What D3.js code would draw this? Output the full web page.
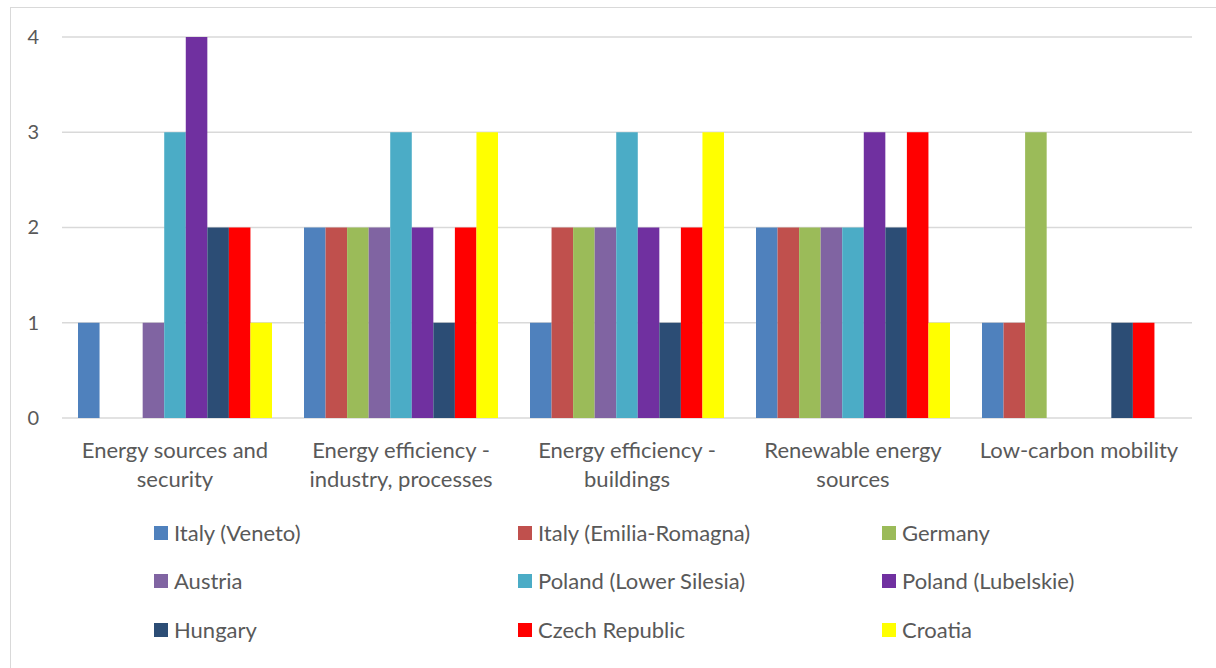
<!DOCTYPE html>
<html>
<head>
<meta charset="utf-8">
<script src="https://cdn.jsdelivr.net/npm/d3@7"></script>
<style>
  html, body { margin: 0; padding: 0; background: #fff; }
  svg { display: block; font-family: Lato, "Open Sans", sans-serif; }
</style>
</head>
<body>
<svg id="chart" width="1216" height="668"></svg>
<script>
// Topics along the x axis (labels wrap onto two lines)
const categories = [
  ["Energy sources and", "security"],
  ["Energy efficiency -", "industry, processes"],
  ["Energy efficiency -", "buildings"],
  ["Renewable energy", "sources"],
  ["Low-carbon mobility"]
];
const regions = [
  "Italy (Veneto)", "Italy (Emilia-Romagna)", "Germany",
  "Austria", "Poland (Lower Silesia)", "Poland (Lubelskie)",
  "Hungary", "Czech Republic", "Croatia"
];
const colors = [
  "#4F81BD", "#C0504D", "#9BBB59",
  "#8064A2", "#4BACC6", "#7030A0",
  "#2C4D75", "#FF0000", "#FFFF00"
];
// One array per region, one value per topic
const italyVeneto        = [1, 2, 1, 2, 1];
const italyEmilia        = [0, 2, 2, 2, 1];
const germany            = [0, 2, 2, 2, 3];
const austria            = [1, 2, 2, 2, 0];
const polandLowerSilesia = [3, 3, 3, 2, 0];
const polandLubelskie    = [4, 2, 2, 3, 0];
const hungary            = [2, 1, 1, 2, 1];
const czechRepublic      = [2, 2, 2, 3, 1];
const croatia            = [1, 3, 3, 1, 0];
const yTicks = [0, 1, 2, 3, 4];

const series = [italyVeneto, italyEmilia, germany, austria, polandLowerSilesia,
                polandLubelskie, hungary, czechRepublic, croatia];

const svg = d3.select("#chart");

// outer frame
svg.append("rect")
  .attr("x", 10.5).attr("y", 7.5)
  .attr("width", 1216).attr("height", 700)
  .attr("fill", "none").attr("stroke", "#D9D9D9").attr("stroke-width", 1);

const plotLeft = 62, plotRight = 1192, plotTop = 37, plotBottom = 418;

const x0 = d3.scaleBand()
  .domain(d3.range(categories.length))
  .range([plotLeft, plotRight])
  .paddingInner(0.1416).paddingOuter(0.0708);
const x1 = d3.scaleBand()
  .domain(d3.range(regions.length))
  .range([0, x0.bandwidth()]);
const y = d3.scaleLinear().domain([0, 4]).range([plotBottom, plotTop]);

// gridlines
svg.append("g")
  .selectAll("line")
  .data(yTicks)
  .join("line")
  .attr("x1", plotLeft).attr("x2", plotRight)
  .attr("y1", d => y(d)).attr("y2", d => y(d))
  .attr("stroke", "#D9D9D9").attr("stroke-width", 1.3);

// y axis labels
const yAxis = d3.axisLeft(y).tickValues(yTicks).tickSize(0).tickPadding(0).tickFormat(d3.format("d"));
svg.append("g")
  .attr("transform", `translate(39,0)`)
  .call(yAxis)
  .call(g => g.select(".domain").remove())
  .call(g => g.selectAll("text")
    .attr("fill", "#595959")
    .style("font-size", "20px")
    .style("font-family", "Lato, sans-serif"));

// bars
const groups = svg.append("g")
  .selectAll("g")
  .data(categories.map((c, i) => i))
  .join("g")
  .attr("transform", i => `translate(${x0(i)},0)`);

groups.selectAll("rect")
  .data(i => series.map((s, k) => ({ k, v: s[i] })))
  .join("rect")
  .attr("x", d => x1(d.k))
  .attr("width", x1.bandwidth())
  .attr("y", d => y(d.v))
  .attr("height", d => y(0) - y(d.v))
  .attr("fill", d => colors[d.k]);

// category labels
const catLabels = svg.append("g")
  .selectAll("text")
  .data(categories)
  .join("text")
  .attr("x", (d, i) => x0(i) + x0.bandwidth() / 2)
  .attr("y", 458)
  .attr("text-anchor", "middle")
  .attr("fill", "#595959")
  .style("font-size", "22px");
catLabels.selectAll("tspan")
  .data(d => d)
  .join("tspan")
  .attr("x", function () { return d3.select(this.parentNode).attr("x"); })
  .attr("dy", (d, j) => j === 0 ? 0 : 29)
  .text(d => d);

// legend: three columns, three rows
const legendX = [154, 518, 882];
const legendY = [533, 581, 630];
const legend = svg.append("g")
  .selectAll("g")
  .data(regions)
  .join("g")
  .attr("transform", (d, i) => `translate(${legendX[i % 3]},${legendY[Math.floor(i / 3)]})`);
legend.append("rect")
  .attr("x", 0).attr("y", -7)
  .attr("width", 14).attr("height", 14)
  .attr("fill", (d, i) => colors[i]);
legend.append("text")
  .attr("x", 20).attr("y", 8)
  .attr("fill", "#595959")
  .style("font-size", "22px")
  .text(d => d);
</script>
</body>
</html>
